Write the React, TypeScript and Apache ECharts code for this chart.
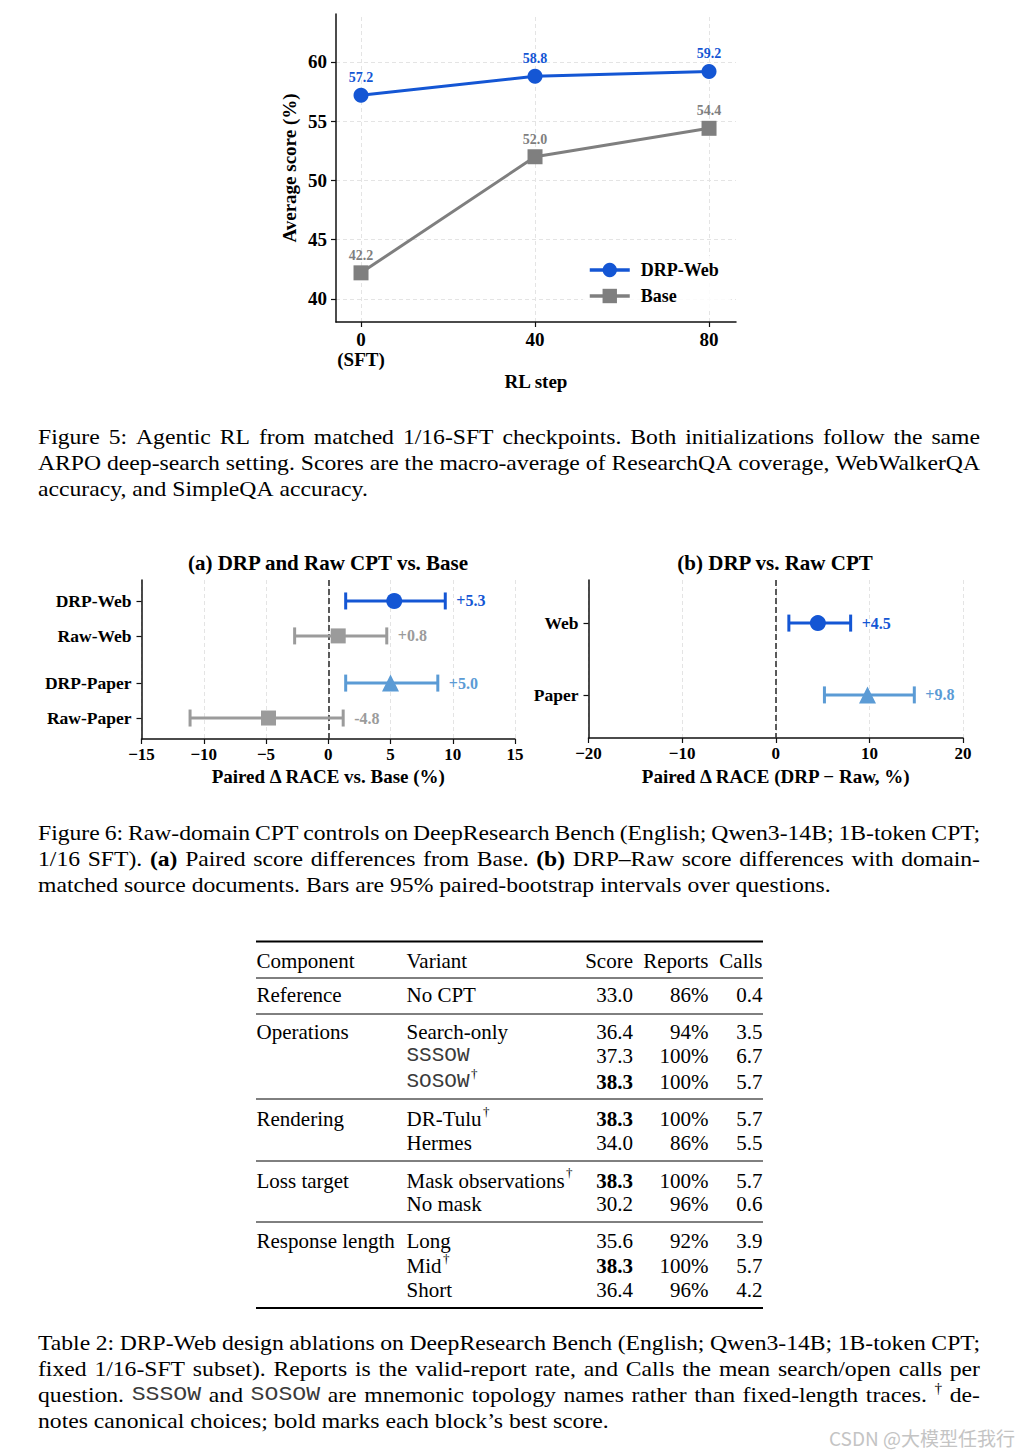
import React, { useEffect, useRef } from 'react';
import * as echarts from 'echarts';

// ---------------- Data ----------------
// Figure 5
const rlSteps = [0, 40, 80];
const drpWebScores = [57.2, 58.8, 59.2];
const baseScores = [42.2, 52.0, 54.4];
const fig5YTicks = [40, 45, 50, 55, 60];

// Figure 6a
const fig6aLabels = ['DRP-Web', 'Raw-Web', 'DRP-Paper', 'Raw-Paper'];
const fig6aPos = [0, 1, 2.35, 3.35];
const fig6aMean = [5.3, 0.8, 5.0, -4.8];
const fig6aLow = [1.4, -2.7, 1.4, -11.1];
const fig6aHigh = [9.4, 4.7, 8.8, 1.2];

// Figure 6b
const fig6bLabels = ['Web', 'Paper'];
const fig6bPos = [0, 1];
const fig6bMean = [4.5, 9.8];
const fig6bLow = [1.4, 5.2];
const fig6bHigh = [8.0, 14.8];

// Table 2
const tableHeader = ['Component', 'Variant', 'Score', 'Reports', 'Calls'];
const tableComponents = ['Reference', 'Operations', '', '', 'Rendering', '', 'Loss target', '', 'Response length', '', ''];
const tableVariants = ['No CPT', 'Search-only', 'SSSOW', 'SOSOW', 'DR-Tulu', 'Hermes', 'Mask observations', 'No mask', 'Long', 'Mid', 'Short'];
const tableMono = [false, false, true, true, false, false, false, false, false, false, false];
const tableDagger = [false, false, false, true, true, false, true, false, false, true, false];
const tableScores = [33.0, 36.4, 37.3, 38.3, 38.3, 34.0, 38.3, 30.2, 35.6, 38.3, 36.4];
const tableBest = [false, false, false, true, true, false, true, false, false, true, false];
const tableReports = [86, 94, 100, 100, 100, 86, 100, 96, 92, 100, 96];
const tableCalls = [0.4, 3.5, 6.7, 5.7, 5.7, 5.5, 5.7, 0.6, 3.9, 5.7, 4.2];

// Captions
const fig5Caption = [
  'Figure 5: Agentic RL from matched 1/16-SFT checkpoints. Both initializations follow the same',
  'ARPO deep-search setting. Scores are the macro-average of ResearchQA coverage, WebWalkerQA',
  'accuracy, and SimpleQA accuracy.',
];
const fig6Caption = [
  'Figure 6: Raw-domain CPT controls on DeepResearch Bench (English; Qwen3-14B; 1B-token CPT;',
  '1/16 SFT). **(a)** Paired score differences from Base. **(b)** DRP\u2013Raw score differences with domain-',
  'matched source documents. Bars are 95% paired-bootstrap intervals over questions.',
];
const table2Caption = [
  'Table 2: DRP-Web design ablations on DeepResearch Bench (English; Qwen3-14B; 1B-token CPT;',
  'fixed 1/16-SFT subset). Reports is the valid-report rate, and Calls the mean search/open calls per',
  'question. `SSSOW` and `SOSOW` are mnemonic topology names rather than fixed-length traces. ^\u2020 de-',
  'notes canonical choices; bold marks each block\u2019s best score.',
];

// ---------------- Styles / layout ----------------
const SERIF = '"Liberation Serif", "Times New Roman", serif';
const MONO = '"Liberation Mono", "Courier New", monospace';
const BLUE = '#1456d4';
const GRAY = '#7f7f7f';
const LGRAY = '#9b9b9b';
const LBLUE = '#5b9bd5';
const GRID_C = '#e4e4e4';
const MONO_C = '#3a3a3a';

const fig6aColors = [BLUE, LGRAY, LBLUE, LGRAY];
const fig6aSymbols = ['circle', 'rect', 'triangle', 'rect'];
const fig6aSizes = [16, 15, 17, 15];
const fig6bColors = [BLUE, LBLUE];
const fig6bSymbols = ['circle', 'triangle'];
const fig6bSizes = [16, 17];

const CAP_FS = 21.5;
const CAP_SX = 1.1;
const TAB_FS = 21;

const tableRowY = [995, 1031.5, 1055.5, 1081.5, 1119, 1142.5, 1180.5, 1204, 1241, 1266, 1290];
const tableRuleY = [941.5, 978, 1014, 1099, 1161, 1222, 1308];
const tableRuleW = [1.8, 1, 1, 1, 1, 1, 1.8];

function fmtMinus(v: number) {
  return v < 0 ? '\u2212' + Math.abs(v) : String(v);
}
function signed(v: number) {
  return v > 0 ? '+' + v.toFixed(1) : v.toFixed(1);
}

function buildOption() {
  const ctx = document.createElement('canvas').getContext('2d')!;
  const measure = (t: string, font: string) => {
    ctx.font = font;
    return ctx.measureText(t).width;
  };

  type Tok = { t: string; s: 'r' | 'b' | 'm' | 'sup' };
  const parseWord = (w: string): Tok => {
    if (w.startsWith('**') && w.endsWith('**')) return { t: w.slice(2, -2), s: 'b' };
    if (w.startsWith('`') && w.endsWith('`')) return { t: w.slice(1, -1), s: 'm' };
    if (w.startsWith('^')) return { t: w.slice(1), s: 'sup' };
    return { t: w, s: 'r' };
  };
  const tokFont = (tk: Tok) => {
    if (tk.s === 'b') return { fam: SERIF, w: 'bold', fs: CAP_FS };
    if (tk.s === 'm') return { fam: MONO, w: 'normal', fs: CAP_FS * 0.98 };
    if (tk.s === 'sup') return { fam: SERIF, w: 'normal', fs: CAP_FS * 0.65 };
    return { fam: SERIF, w: 'normal', fs: CAP_FS };
  };
  const fontStr = (f: { fam: string; w: string; fs: number }) => `${f.w} ${f.fs}px ${f.fam}`;

  const els: any[] = [];

  const caption = (lines: string[], x0: number, x1: number, y0: number, lh: number) => {
    lines.forEach((line, li) => {
      const toks = line.split(' ').map(parseWord);
      const widths = toks.map((tk) => measure(tk.t, fontStr(tokFont(tk))) * CAP_SX);
      const total = widths.reduce((a, b) => a + b, 0);
      const justify = li < lines.length - 1 && toks.length > 1;
      const gap = justify
        ? (x1 - x0 - total) / (toks.length - 1)
        : measure(' ', fontStr({ fam: SERIF, w: 'normal', fs: CAP_FS })) * CAP_SX;
      let x = x0;
      const y = y0 + li * lh;
      toks.forEach((tk, i) => {
        const f = tokFont(tk);
        els.push({
          type: 'text',
          x,
          y: tk.s === 'sup' ? y - 7 : y,
          scaleX: CAP_SX,
          style: {
            text: tk.t,
            fontFamily: f.fam,
            fontWeight: f.w,
            fontSize: f.fs,
            fill: tk.s === 'm' ? MONO_C : '#000',
            textAlign: 'left',
            textVerticalAlign: 'middle',
          },
        });
        x += widths[i] + gap;
      });
    });
  };

  caption(fig5Caption, 38, 980, 437, 26);
  caption(fig6Caption, 38, 980, 832.5, 26);
  caption(table2Caption, 38, 980, 1343, 26);

  // Figure 6 titles
  const title = (text: string, x: number, y: number) =>
    els.push({
      type: 'text',
      x,
      y,
      style: {
        text,
        fontFamily: SERIF,
        fontWeight: 'bold',
        fontSize: 21,
        fill: '#000',
        textAlign: 'center',
        textVerticalAlign: 'middle',
      },
    });
  title('(a) DRP and Raw CPT vs. Base', 328, 563);
  title('(b) DRP vs. Raw CPT', 775, 563);

  // Table
  const TX = { comp: 256.5, variant: 406.5, score: 633, reports: 708.5, calls: 762.5 };
  tableRuleY.forEach((y, i) =>
    els.push({
      type: 'line',
      shape: { x1: 256, y1: y, x2: 763, y2: y },
      style: { stroke: '#000', lineWidth: tableRuleW[i] },
    })
  );
  const tText = (text: string, x: number, y: number, align: string, opts: any = {}) =>
    els.push({
      type: 'text',
      x,
      y,
      style: {
        text,
        fontFamily: opts.fam || SERIF,
        fontWeight: opts.bold ? 'bold' : 'normal',
        fontSize: opts.fs || TAB_FS,
        fill: opts.color || '#000',
        textAlign: align,
        textVerticalAlign: 'middle',
      },
    });
  const headY = 961;
  tText(tableHeader[0], TX.comp, headY, 'left');
  tText(tableHeader[1], TX.variant, headY, 'left');
  tText(tableHeader[2], TX.score, headY, 'right');
  tText(tableHeader[3], TX.reports, headY, 'right');
  tText(tableHeader[4], TX.calls, headY, 'right');
  tableVariants.forEach((v, i) => {
    const y = tableRowY[i];
    if (tableComponents[i]) tText(tableComponents[i], TX.comp, y, 'left');
    const fam = tableMono[i] ? MONO : SERIF;
    tText(v, TX.variant, y, 'left', { fam, color: tableMono[i] ? MONO_C : '#000' });
    if (tableDagger[i]) {
      const w = measure(v, `normal ${TAB_FS}px ${fam}`);
      tText('\u2020', TX.variant + w + 1.5, y - 8, 'left', { fs: 13 });
    }
    tText(tableScores[i].toFixed(1), TX.score, y, 'right', { bold: tableBest[i] });
    tText(tableReports[i] + '%', TX.reports, y, 'right');
    tText(tableCalls[i].toFixed(1), TX.calls, y, 'right');
  });

  // Watermark
  els.push({
    type: 'text',
    x: 1015,
    y: 1437,
    style: {
      text: 'CSDN @\u5927\u6a21\u578b\u4efb\u6211\u884c',
      fontFamily: '"Noto Sans CJK SC", "Noto Sans", sans-serif',
      fontSize: 19,
      fill: '#c4c4c4',
      textAlign: 'right',
      textVerticalAlign: 'middle',
    },
  });

  // ---------- error bar renderer ----------
  const errRender = (colors: string[], means: number[]) => (params: any, api: any) => {
    const y = api.value(2);
    const i = api.value(3);
    const a = api.coord([api.value(0), y]);
    const b = api.coord([api.value(1), y]);
    const c = colors[i];
    const st = { stroke: c, lineWidth: 3 };
    return {
      type: 'group',
      children: [
        { type: 'line', shape: { x1: a[0], y1: a[1], x2: b[0], y2: b[1] }, style: st },
        { type: 'line', shape: { x1: a[0], y1: a[1] - 8.5, x2: a[0], y2: a[1] + 8.5 }, style: st },
        { type: 'line', shape: { x1: b[0], y1: b[1] - 8.5, x2: b[0], y2: b[1] + 8.5 }, style: st },
        {
          type: 'text',
          x: b[0] + 11,
          y: b[1],
          style: {
            text: signed(means[i]),
            fill: c,
            fontFamily: SERIF,
            fontWeight: 'bold',
            fontSize: 16,
            textAlign: 'left',
            textVerticalAlign: 'middle',
            align: 'left',
            verticalAlign: 'middle',
          },
        },
      ],
    };
  };

  const axisLine = { show: true, onZero: false, lineStyle: { color: '#111', width: 1.5 } };
  const axisTick = (vals?: number[]) => ({
    show: true,
    inside: false,
    length: 5,
    lineStyle: { color: '#111', width: 1.2 },
    ...(vals ? { customValues: vals } : {}),
  });
  const nearestIdx = (arr: number[], v: number) => {
    let best = 0;
    arr.forEach((p, i) => {
      if (Math.abs(p - v) < Math.abs(arr[best] - v)) best = i;
    });
    return best;
  };

  const fig5Grid = fig5YTicks
    .map((v) => ({ yAxis: v }))
    .concat(rlSteps.map((v) => ({ xAxis: v })) as any);

  const pointLabel = (color: string) => ({
    show: true,
    position: 'top',
    distance: 3,
    formatter: (p: any) => p.value[1].toFixed(1),
    color,
    fontFamily: SERIF,
    fontWeight: 'bold',
    fontSize: 14,
  });

  const zeroLine = {
    silent: true,
    symbol: 'none',
    z: 1,
    label: { show: false },
    lineStyle: { color: '#333', type: [6, 3], width: 1.6 },
    data: [{ xAxis: 0 }],
  };

  return {
    animation: false,
    backgroundColor: '#ffffff',
    textStyle: { fontFamily: SERIF },
    grid: [
      { left: 336, top: 14, width: 400, height: 308, outerBoundsMode: 'none', containLabel: false },
      { left: 141.5, top: 580, width: 373.5, height: 159, outerBoundsMode: 'none', containLabel: false },
      { left: 588.5, top: 580, width: 374.5, height: 158, outerBoundsMode: 'none', containLabel: false },
    ],
    xAxis: [
      {
        gridIndex: 0,
        type: 'value',
        min: -5.75,
        max: 86.2,
        axisLine,
        axisTick: axisTick(rlSteps),
        splitLine: { show: false },
        axisLabel: {
          customValues: rlSteps,
          formatter: (v: number) => (v === 0 ? '0\n(SFT)' : String(v)),
          fontFamily: SERIF,
          fontWeight: 'bold',
          fontSize: 19,
          color: '#000',
          lineHeight: 20,
          margin: 7,
        },
        name: 'RL step',
        nameLocation: 'middle',
        nameGap: 50,
        nameTextStyle: { fontFamily: SERIF, fontWeight: 'bold', fontSize: 19, color: '#000' },
      },
      {
        gridIndex: 1,
        type: 'value',
        min: -15,
        max: 15,
        interval: 5,
        axisLine,
        axisTick: axisTick(),
        splitLine: { show: true, lineStyle: { color: GRID_C, type: [4, 3], width: 1 } },
        axisLabel: {
          formatter: fmtMinus,
          fontFamily: SERIF,
          fontWeight: 'bold',
          fontSize: 17,
          color: '#000',
          margin: 7,
        },
        name: 'Paired \u0394 RACE vs. Base (%)',
        nameLocation: 'middle',
        nameGap: 28,
        nameTextStyle: { fontFamily: SERIF, fontWeight: 'bold', fontSize: 19, color: '#000' },
      },
      {
        gridIndex: 2,
        type: 'value',
        min: -20,
        max: 20,
        interval: 10,
        axisLine,
        axisTick: axisTick(),
        splitLine: { show: true, lineStyle: { color: GRID_C, type: [4, 3], width: 1 } },
        axisLabel: {
          formatter: fmtMinus,
          fontFamily: SERIF,
          fontWeight: 'bold',
          fontSize: 17,
          color: '#000',
          margin: 7,
        },
        name: 'Paired \u0394 RACE (DRP \u2212 Raw, %)',
        nameLocation: 'middle',
        nameGap: 29,
        nameTextStyle: { fontFamily: SERIF, fontWeight: 'bold', fontSize: 19, color: '#000' },
      },
    ],
    yAxis: [
      {
        gridIndex: 0,
        type: 'value',
        min: 38.05,
        max: 64.05,
        axisLine,
        axisTick: axisTick(fig5YTicks),
        splitLine: { show: false },
        axisLabel: {
          customValues: fig5YTicks,
          fontFamily: SERIF,
          fontWeight: 'bold',
          fontSize: 19,
          color: '#000',
          margin: 9,
        },
        name: 'Average score (%)',
        nameLocation: 'middle',
        nameRotate: 90,
        nameGap: 37,
        nameTextStyle: { fontFamily: SERIF, fontWeight: 'bold', fontSize: 19, color: '#000' },
      },
      {
        gridIndex: 1,
        type: 'value',
        inverse: true,
        min: -0.6,
        max: 3.95,
        axisLine,
        axisTick: axisTick(fig6aPos),
        splitLine: { show: false },
        axisLabel: {
          customValues: fig6aPos,
          formatter: (v: number) => fig6aLabels[nearestIdx(fig6aPos, v)],
          fontFamily: SERIF,
          fontWeight: 'bold',
          fontSize: 17.5,
          color: '#000',
          margin: 10,
        },
      },
      {
        gridIndex: 2,
        type: 'value',
        inverse: true,
        min: -0.6,
        max: 1.6,
        axisLine,
        axisTick: axisTick(fig6bPos),
        splitLine: { show: false },
        axisLabel: {
          customValues: fig6bPos,
          formatter: (v: number) => fig6bLabels[nearestIdx(fig6bPos, v)],
          fontFamily: SERIF,
          fontWeight: 'bold',
          fontSize: 17.5,
          color: '#000',
          margin: 10,
        },
      },
    ],
    legend: {
      data: ['DRP-Web', 'Base'],
      left: 583,
      top: 256,
      orient: 'vertical',
      itemWidth: 40,
      itemHeight: 18,
      itemGap: 8,
      padding: [5, 12, 5, 5],
      backgroundColor: 'rgba(255,255,255,0.85)',
      lineStyle: { width: 3.5 },
      textStyle: { fontFamily: SERIF, fontWeight: 'bold', fontSize: 18, color: '#000', padding: [0, 0, 0, 6] },
    },
    graphic: { elements: els },
    series: [
      // fig5 gridlines
      {
        type: 'scatter',
        xAxisIndex: 0,
        yAxisIndex: 0,
        data: [[rlSteps[0], fig5YTicks[0]]],
        symbolSize: 0,
        silent: true,
        z: 0,
        markLine: {
          silent: true,
          symbol: 'none',
          z: 0,
          label: { show: false },
          lineStyle: { color: GRID_C, type: [4, 3], width: 1 },
          data: fig5Grid,
        },
      },
      {
        type: 'line',
        name: 'DRP-Web',
        xAxisIndex: 0,
        yAxisIndex: 0,
        data: rlSteps.map((x, i) => [x, drpWebScores[i]]),
        symbol: 'circle',
        symbolSize: 15,
        lineStyle: { width: 3, color: BLUE },
        itemStyle: { color: BLUE },
        label: pointLabel(BLUE),
        z: 3,
      },
      {
        type: 'line',
        name: 'Base',
        xAxisIndex: 0,
        yAxisIndex: 0,
        data: rlSteps.map((x, i) => [x, baseScores[i]]),
        symbol: 'rect',
        symbolSize: 15,
        lineStyle: { width: 3, color: GRAY },
        itemStyle: { color: GRAY },
        label: pointLabel(GRAY),
        z: 2,
      },
      // fig6a
      {
        type: 'custom',
        xAxisIndex: 1,
        yAxisIndex: 1,
        data: fig6aPos.map((y, i) => [fig6aLow[i], fig6aHigh[i], y, i]),
        encode: { x: [0, 1], y: 2 },
        renderItem: errRender(fig6aColors, fig6aMean),
        z: 2,
        markLine: zeroLine,
      },
      {
        type: 'scatter',
        xAxisIndex: 1,
        yAxisIndex: 1,
        z: 4,
        data: fig6aPos.map((y, i) => ({
          value: [fig6aMean[i], y],
          symbol: fig6aSymbols[i],
          symbolSize: fig6aSizes[i],
          itemStyle: { color: fig6aColors[i], opacity: 1 },
        })),
      },
      // fig6b
      {
        type: 'custom',
        xAxisIndex: 2,
        yAxisIndex: 2,
        data: fig6bPos.map((y, i) => [fig6bLow[i], fig6bHigh[i], y, i]),
        encode: { x: [0, 1], y: 2 },
        renderItem: errRender(fig6bColors, fig6bMean),
        z: 2,
        markLine: zeroLine,
      },
      {
        type: 'scatter',
        xAxisIndex: 2,
        yAxisIndex: 2,
        z: 4,
        data: fig6bPos.map((y, i) => ({
          value: [fig6bMean[i], y],
          symbol: fig6bSymbols[i],
          symbolSize: fig6bSizes[i],
          itemStyle: { color: fig6bColors[i], opacity: 1 },
        })),
      },
    ],
  };
}

export default function App() {
  const ref = useRef<HTMLDivElement>(null);
  useEffect(() => {
    if (!ref.current) return;
    const chart = echarts.init(ref.current, null, { renderer: 'svg', width: 1020, height: 1454 });
    chart.setOption(buildOption() as any);
    return () => chart.dispose();
  }, []);
  return (
    <div
      ref={ref}
      style={{ position: 'absolute', left: 0, top: 0, width: 1020, height: 1454, background: '#fff' }}
    />
  );
}
